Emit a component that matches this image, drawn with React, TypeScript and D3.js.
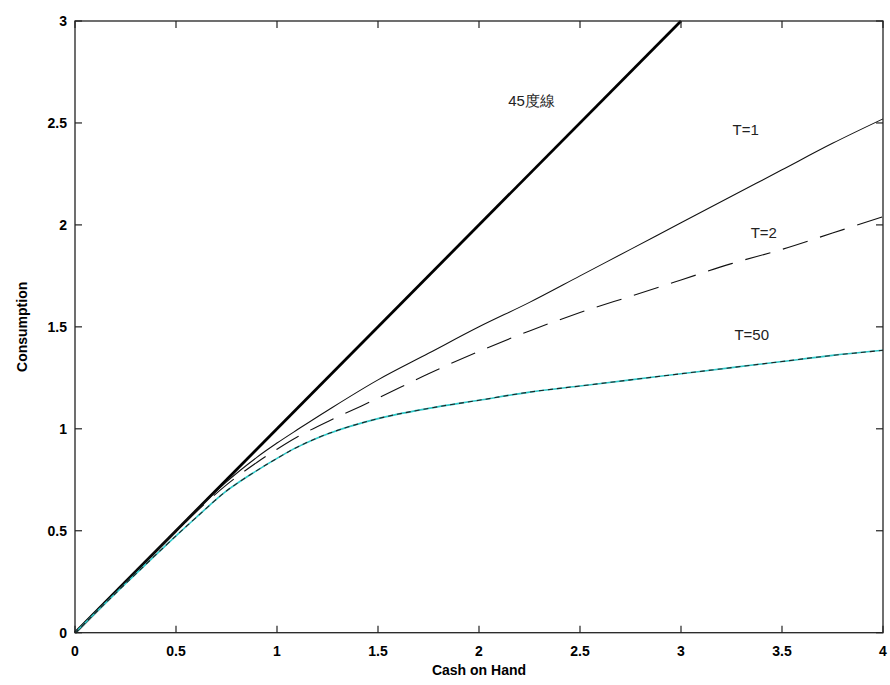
import React from "react";
import * as d3 from "d3";

const cashGrid = [0, 0.25, 0.5, 0.6, 0.75, 0.9, 1.0, 1.1, 1.25, 1.5, 1.75, 2, 2.25, 2.5, 2.75, 3, 3.25, 3.5, 3.75, 4];
const consT1 = [0, 0.25, 0.5, 0.6, 0.74, 0.86, 0.93, 0.995, 1.09, 1.24, 1.37, 1.5, 1.62, 1.75, 1.88, 2.01, 2.14, 2.27, 2.4, 2.52];
const consT2 = [0, 0.25, 0.495, 0.593, 0.725, 0.835, 0.9, 0.96, 1.035, 1.15, 1.27, 1.38, 1.48, 1.57, 1.65, 1.73, 1.81, 1.88, 1.96, 2.04];
const consT50 = [0, 0.24, 0.475, 0.565, 0.695, 0.795, 0.855, 0.91, 0.975, 1.05, 1.1, 1.14, 1.18, 1.21, 1.24, 1.27, 1.3, 1.33, 1.36, 1.385];
const line45x = [0, 3];
const line45y = [0, 3];
const xTicks = [0, 0.5, 1, 1.5, 2, 2.5, 3, 3.5, 4];
const yTicks = [0, 0.5, 1, 1.5, 2, 2.5, 3];
const labels = [
  { text: "45度線", x: 2.26, y: 2.585 },
  { text: "T=1", x: 3.32, y: 2.44 },
  { text: "T=2", x: 3.41, y: 1.935 },
  { text: "T=50", x: 3.35, y: 1.435 },
];

const W = 890, H = 685;
const L = 75, R = 883, T = 21, B = 632.7;

export default function App() {
  const x = d3.scaleLinear().domain([0, 4]).range([L, R]);
  const y = d3.scaleLinear().domain([0, 3]).range([B, T]);
  const mk = (ys: number[], xs: number[] = cashGrid) =>
    d3.line<number>().x((_, i) => x(xs[i])).y((d) => y(d)).curve(d3.curveCatmullRom.alpha(0.5))(ys) || "";
  const font = "'Liberation Sans', Arial, sans-serif";
  const tl = 7;
  return (
    <svg width={W} height={H} style={{ position: "absolute", left: 0, top: 0, background: "#fff" }}>
      <rect x={0} y={0} width={W} height={H} fill="#fff" />
      <path d={mk(line45y, line45x)} fill="none" stroke="#000" strokeWidth={2.8} />
      <path d={mk(consT1)} fill="none" stroke="#111" strokeWidth={1.1} />
      <path d={mk(consT2)} fill="none" stroke="#111" strokeWidth={1.1} strokeDasharray="26,13" />
      <path d={mk(consT50)} fill="none" stroke="#2ec8c8" strokeWidth={1.6} />
      <path d={mk(consT50)} fill="none" stroke="#222" strokeWidth={1.1} strokeDasharray="5,4" />
      <rect x={L} y={T} width={R - L} height={B - T} fill="none" stroke="#222" strokeWidth={1.3} />
      {xTicks.map((t) => (
        <g key={"x" + t}>
          <line x1={x(t)} x2={x(t)} y1={B} y2={B - tl} stroke="#222" strokeWidth={1.2} />
          <line x1={x(t)} x2={x(t)} y1={T} y2={T + tl} stroke="#222" strokeWidth={1.2} />
          <text x={x(t)} y={656} textAnchor="middle" fontFamily={font} fontWeight="bold" fontSize={14}>{t}</text>
        </g>
      ))}
      {yTicks.map((t) => (
        <g key={"y" + t}>
          <line x1={L} x2={L + tl} y1={y(t)} y2={y(t)} stroke="#222" strokeWidth={1.2} />
          <line x1={R} x2={R - tl} y1={y(t)} y2={y(t)} stroke="#222" strokeWidth={1.2} />
          <text x={67} y={y(t) + 5} textAnchor="end" fontFamily={font} fontWeight="bold" fontSize={14}>{t}</text>
        </g>
      ))}
      <text x={(L + R) / 2} y={675} textAnchor="middle" fontFamily={font} fontWeight="bold" fontSize={14}>Cash on Hand</text>
      <text transform={`translate(27,${(T + B) / 2}) rotate(-90)`} textAnchor="middle" fontFamily={font} fontWeight="bold" fontSize={14}>Consumption</text>
      {labels.map((l) => (
        <text key={l.text} x={x(l.x)} y={y(l.y)} textAnchor="middle" fontFamily={font} fontSize={15} fill="#222">{l.text}</text>
      ))}
    </svg>
  );
}
